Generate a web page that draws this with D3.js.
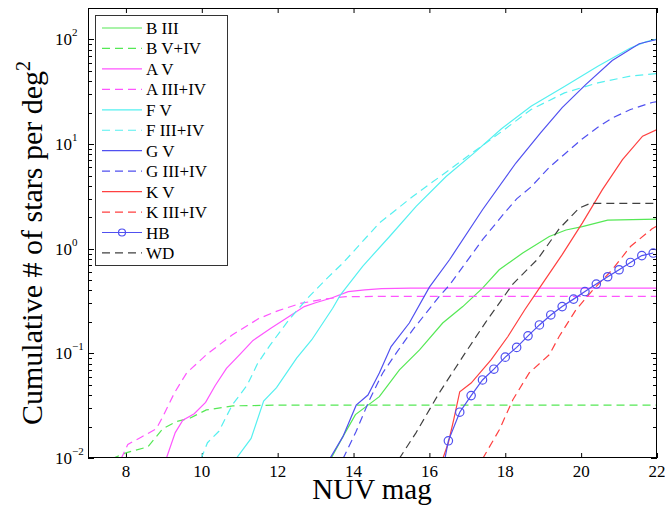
<!DOCTYPE html>
<html>
<head>
<meta charset="utf-8">
<script src="https://cdn.jsdelivr.net/npm/d3@7"></script>
<style>
  body { margin: 0; background: #fff; }
  svg { display: block; }
  text { font-family: "Liberation Serif", "Times New Roman", serif; fill: #000; }
</style>
</head>
<body>
<svg id="chart" width="665" height="512"></svg>
<script>
// cumulative star counts per deg^2 vs NUV magnitude, [mag, count]
var bIII = [[13.40,0.0098],[13.72,0.016],[14.05,0.026],[14.68,0.0386],[15.21,0.0695],[15.74,0.108],[16.35,0.195],[16.88,0.28],[17.4,0.42],[17.84,0.63],[18.46,0.91],[19.16,1.31],[19.6,1.51],[20.03,1.63],[20.7,1.88],[22,1.92]];
var bVIV = [[7.62,0.0098],[8.0,0.0112],[8.58,0.0128],[8.97,0.019],[9.33,0.0223],[9.68,0.024],[10.12,0.0288],[10.82,0.0315],[12,0.032],[22,0.032]];
var aV = [[9.06,0.0098],[9.3,0.0175],[9.5,0.023],[9.8,0.0265],[10.1,0.034],[10.35,0.049],[10.65,0.072],[11.03,0.1],[11.35,0.133],[11.82,0.174],[12.3,0.225],[12.7,0.28],[13.0,0.305],[13.42,0.338],[13.86,0.389],[14.3,0.405],[14.74,0.415],[15.5,0.42],[22,0.42]];
var aIIIIV = [[7.87,0.0098],[8.05,0.0135],[8.4,0.0158],[8.8,0.019],[9.0,0.026],[9.28,0.042],[9.6,0.065],[10.12,0.097],[10.8,0.15],[11.5,0.215],[12.0,0.255],[12.6,0.3],[13.2,0.33],[13.8,0.348],[14.5,0.35],[22,0.35]];
var fV = [[10.9,0.0098],[11.3,0.0154],[11.63,0.035],[11.97,0.047],[12.5,0.09],[12.9,0.135],[13.45,0.27],[13.65,0.36],[14.24,0.68],[14.95,1.31],[15.65,2.54],[16.44,4.9],[17.19,8.3],[17.9,14],[18.68,23],[19.56,35.6],[20.44,55.6],[21.3,83],[21.7,95],[22,101]];
var fIIIIV = [[9.98,0.0098],[10.15,0.014],[10.45,0.018],[10.8,0.032],[11.2,0.05],[11.47,0.08],[11.8,0.12],[12.3,0.21],[12.8,0.34],[13.32,0.53],[13.72,0.73],[14.68,1.76],[15.56,3.16],[16.53,5.7],[17.1,8.1],[17.98,13.8],[18.68,21.4],[19.56,30.9],[20.44,38.5],[21.3,44.7],[22,47.3]];
var gV = [[13.37,0.0098],[13.72,0.016],[14.07,0.032],[14.38,0.04],[14.68,0.065],[14.99,0.116],[15.47,0.195],[16.0,0.43],[16.53,0.785],[17.4,2.36],[18.28,6.6],[18.93,12.8],[19.5,22.3],[20.12,37],[20.82,63],[21.53,91],[22,100]];
var gIIIIV = [[13.72,0.0098],[14.07,0.018],[14.42,0.036],[14.77,0.065],[15.12,0.1],[15.56,0.168],[16.26,0.35],[16.53,0.45],[17.4,1.22],[17.98,2.2],[18.3,3.0],[18.68,3.9],[19.16,6.0],[19.56,8.0],[20.0,11],[20.44,14.5],[20.82,17.8],[21.3,21.4],[21.87,25],[22,25.5]];
var kV = [[16.35,0.0098],[16.5,0.014],[16.65,0.024],[16.8,0.043],[17.1,0.052],[17.63,0.087],[18.07,0.145],[18.51,0.26],[18.9,0.42],[19.5,0.88],[20.03,1.76],[20.56,3.67],[21.09,7.1],[21.62,11.9],[22,13.8]];
var kIIIIV = [[17.4,0.0098],[17.84,0.0185],[18.2,0.036],[18.63,0.065],[19.16,0.097],[19.42,0.145],[19.86,0.26],[20.3,0.4],[20.82,0.63],[21.3,1.05],[21.87,1.55],[22,1.65]];
var hb = [[16.2,0.004],[16.5,0.0146],[16.8,0.0274],[17.1,0.0395],[17.4,0.0557],[17.7,0.0706],[18.0,0.092],[18.3,0.114],[18.6,0.147],[18.9,0.187],[19.2,0.233],[19.5,0.28],[19.8,0.33],[20.1,0.39],[20.4,0.46],[20.7,0.54],[21.0,0.63],[21.3,0.74],[21.6,0.86],[21.9,0.91]];
var wd = [[15.2,0.0098],[15.65,0.0175],[16.26,0.042],[16.88,0.093],[17.49,0.2],[18.2,0.46],[18.86,0.8],[19.42,1.55],[19.95,2.45],[20.25,2.72],[22,2.72]];

var seriesNames = ["B III", "B V+IV", "A V", "A III+IV", "F V", "F III+IV", "G V", "G III+IV", "K V", "K III+IV", "HB", "WD"];
var seriesData = [bIII, bVIV, aV, aIIIIV, fV, fIIIIV, gV, gIIIIV, kV, kIIIIV, hb, wd];

var xTicks = [8, 10, 12, 14, 16, 18, 20, 22];
var yExponents = [-2, -1, 0, 1, 2];

// styles
var green = "#55e855", magenta = "#ff55ff", cyan = "#55f0f0", blue = "#5050f0", red = "#ff4040", black = "#404040";
var seriesColor = [green, green, magenta, magenta, cyan, cyan, blue, blue, red, red, blue, black];
var seriesDash = [null, "8,5", null, "8,5", null, "8,5", null, "8,5", null, "8,5", null, "8,5"];

var margin = { left: 88, right: 657, top: 8, bottom: 458 };

var svg = d3.select("#chart");

var x = d3.scaleLinear().domain([7, 22]).range([margin.left, margin.right]);
var y = d3.scaleLog().domain([0.01, 200]).range([margin.bottom, margin.top]);

svg.append("defs").append("clipPath").attr("id", "plotClip")
  .append("rect")
  .attr("x", margin.left).attr("y", margin.top)
  .attr("width", margin.right - margin.left).attr("height", margin.bottom - margin.top);

// y minor + major ticks
var yTickVals = [];
yExponents.forEach(function(e) {
  for (var m = 1; m <= 9; m++) {
    var v = m * Math.pow(10, e);
    if (v <= 200) yTickVals.push(v);
  }
});

function styleAxis(g) {
  g.select(".domain").remove();
  g.selectAll(".tick line").attr("stroke", "#000").attr("stroke-width", 1);
  g.selectAll(".tick text").remove();
}

// bottom & top x ticks (inward)
svg.append("g")
  .attr("transform", "translate(0," + margin.bottom + ")")
  .call(d3.axisBottom(x).tickValues(xTicks).tickSize(-5).tickSizeOuter(0))
  .call(styleAxis);
svg.append("g")
  .attr("transform", "translate(0," + margin.top + ")")
  .call(d3.axisTop(x).tickValues(xTicks).tickSize(-5).tickSizeOuter(0))
  .call(styleAxis);

// left & right y ticks (inward), minor shorter
function yTicks(g, side) {
  g.selectAll("line")
    .data(yTickVals)
    .enter().append("line")
    .attr("x1", side == "left" ? margin.left : margin.right)
    .attr("x2", function(d) {
      var major = Math.abs(Math.log10(d) - Math.round(Math.log10(d))) < 1e-9;
      var len = major ? 6 : 4;
      return side == "left" ? margin.left + len : margin.right - len;
    })
    .attr("y1", function(d) { return Math.round(y(d)) + 0.5; })
    .attr("y2", function(d) { return Math.round(y(d)) + 0.5; })
    .attr("stroke", "#000")
    .attr("stroke-width", 1);
}
svg.append("g").call(yTicks, "left");
svg.append("g").call(yTicks, "right");

// x tick labels
svg.append("g").selectAll("text")
  .data(xTicks)
  .enter().append("text")
  .attr("x", function(d) { return x(d); })
  .attr("y", 477)
  .attr("text-anchor", "middle")
  .style("font-size", "17px")
  .text(function(d) { return d; });

// y tick labels 10^e
var yLab = svg.append("g").selectAll("text")
  .data(yExponents)
  .enter().append("text")
  .attr("x", 55)
  .attr("y", function(d) { return y(Math.pow(10, d)) + 6; })
  .style("font-size", "17px");
yLab.append("tspan").text("10");
yLab.append("tspan")
  .attr("dy", -9)
  .style("font-size", "11px")
  .text(function(d) { return d < 0 ? "\u2212" + (-d) : d; });

// lines
var line = d3.line()
  .x(function(d) { return x(d[0]); })
  .y(function(d) { return y(d[1]); });

var plot = svg.append("g").attr("clip-path", "url(#plotClip)");

seriesData.forEach(function(data, i) {
  plot.append("path")
    .datum(data)
    .attr("d", line)
    .attr("fill", "none")
    .attr("stroke", seriesColor[i])
    .attr("stroke-width", 1.2)
    .attr("stroke-dasharray", seriesDash[i]);
});

// HB markers
plot.selectAll("circle.hb")
  .data(hb)
  .enter().append("circle")
  .attr("class", "hb")
  .attr("cx", function(d) { return x(d[0]); })
  .attr("cy", function(d) { return y(d[1]); })
  .attr("r", 4.2)
  .attr("fill", "none")
  .attr("stroke", blue)
  .attr("stroke-width", 1.2);

// frame
svg.append("rect")
  .attr("x", margin.left + 0.5).attr("y", margin.top + 0.5)
  .attr("width", margin.right - margin.left - 1).attr("height", margin.bottom - margin.top - 1)
  .attr("fill", "none")
  .attr("stroke", "#000")
  .attr("stroke-width", 1);

// legend
var legend = svg.append("g");
legend.append("rect")
  .attr("x", 95.5).attr("y", 15.5)
  .attr("width", 132).attr("height", 250)
  .attr("fill", "#fff")
  .attr("stroke", "#333")
  .attr("stroke-width", 1);

var item = legend.selectAll("g.item")
  .data(seriesNames)
  .enter().append("g")
  .attr("class", "item")
  .attr("transform", function(d, i) { return "translate(0," + (28 + i * 20.45) + ")"; });

item.append("line")
  .attr("x1", 102).attr("x2", 142)
  .attr("y1", 0).attr("y2", 0)
  .attr("stroke", function(d, i) { return seriesColor[i]; })
  .attr("stroke-width", 1.2)
  .attr("stroke-dasharray", function(d, i) { return seriesDash[i]; });

item.filter(function(d) { return d == "HB"; })
  .append("circle")
  .attr("cx", 122).attr("cy", 0).attr("r", 3.5)
  .attr("fill", "none")
  .attr("stroke", blue)
  .attr("stroke-width", 1.2);

item.append("text")
  .attr("x", 146)
  .attr("y", 6)
  .style("font-size", "17px")
  .text(function(d) { return d; });

// axis titles
svg.append("text")
  .attr("x", 372)
  .attr("y", 499)
  .attr("text-anchor", "middle")
  .style("font-size", "29px")
  .text("NUV mag");

var yTitle = svg.append("text")
  .attr("transform", "translate(42,425) rotate(-90)")
  .attr("text-anchor", "start")
  .style("font-size", "30px");
yTitle.append("tspan").text("Cumulative # of stars per deg");
yTitle.append("tspan").attr("dy", -12).style("font-size", "20px").text("2");
</script>
</body>
</html>
